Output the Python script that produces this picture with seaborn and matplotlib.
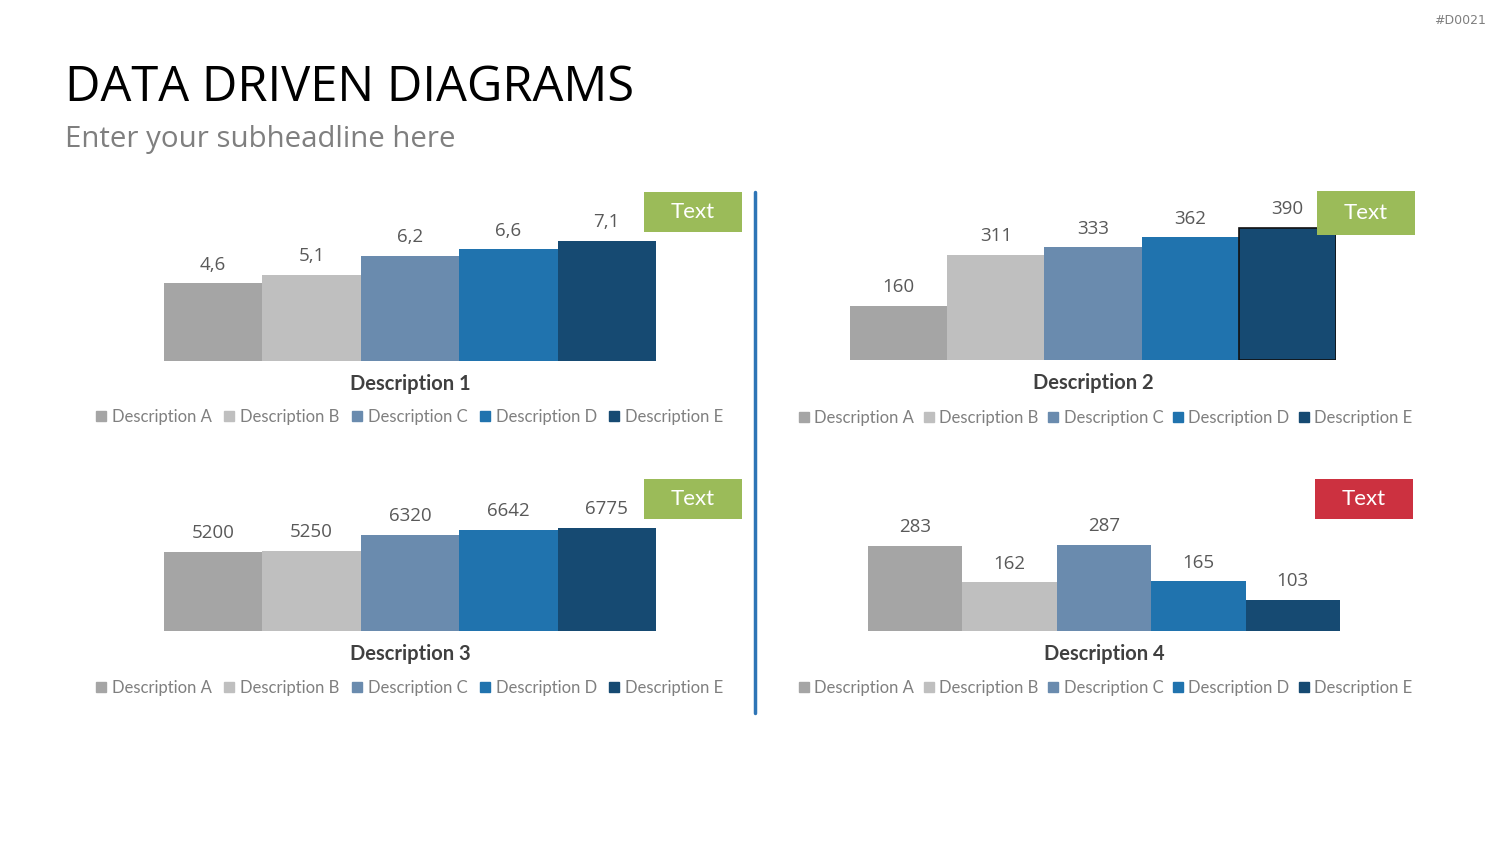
import matplotlib
matplotlib.use("Agg")
import matplotlib.pyplot as plt
import seaborn as sns
import pandas as pd
from matplotlib.patches import Rectangle
from matplotlib.lines import Line2D

# data
categories = ["Description A", "Description B", "Description C", "Description D", "Description E"]
values_1 = [4.6, 5.1, 6.2, 6.6, 7.1]
labels_1 = ["4,6", "5,1", "6,2", "6,6", "7,1"]
values_2 = [160, 311, 333, 362, 390]
values_3 = [5200, 5250, 6320, 6642, 6775]
values_4 = [283, 162, 287, 165, 103]
chart_titles = ["Description 1", "Description 2", "Description 3", "Description 4"]
colors = ["#A5A5A5", "#BFBFBF", "#6A8BAE", "#2073AE", "#164A72"]

sns.set_style("white")
plt.rcParams['font.family'] = ['Open Sans', 'DejaVu Sans']

W, H = 1500, 844
fig = plt.figure(figsize=(15, 8.44), dpi=100)


def px_axes(x0, y0, x1, y1):
    return fig.add_axes([x0 / W, 1 - y1 / H, (x1 - x0) / W, (y1 - y0) / H])


def draw_chart(box, vals, labels, ymax, title, title_y, legend_xy, tag, tag_color,
               outline_last=False, colspace=0.55):
    ax = px_axes(*box)
    df = pd.DataFrame({"cat": categories, "val": vals})
    sns.barplot(data=df, x="cat", y="val", hue="cat", palette=colors, width=1.0,
                saturation=1, legend=False, linewidth=0, ax=ax)
    ax.set_xlim(-0.5, 4.5)
    ax.set_ylim(0, ymax)
    ax.axis("off")
    for i, cont in enumerate(ax.containers):
        ax.bar_label(cont, labels=[labels[i]], padding=7, fontsize=13.5, color="#595959")
        for p in cont:
            p.set_linewidth(0)
        if outline_last and i == len(ax.containers) - 1:
            for p in cont:
                p.set_edgecolor("#111111")
                p.set_linewidth(1.2)
    cx = (box[0] + box[2]) / 2
    fig.text(cx / W, 1 - title_y / H, title, ha="center", va="center", fontsize=14.5,
             fontweight="bold", color="#404040", family=["Lato", "DejaVu Sans"])
    handles = [Line2D([], [], marker="s", linestyle="none", markersize=7, color=c) for c in colors]
    fig.legend(handles, categories, loc="center", ncol=5, frameon=False,
               bbox_to_anchor=(legend_xy[0] / W, 1 - legend_xy[1] / H),
               prop={"family": ["Lato", "DejaVu Sans"], "size": 12},
               labelcolor="#7F7F7F", handletextpad=0.15, columnspacing=colspace,
               handlelength=1.0)
    tx0, ty0, tx1, ty1 = tag
    fig.patches.append(Rectangle((tx0 / W, 1 - ty1 / H), (tx1 - tx0) / W, (ty1 - ty0) / H,
                                 transform=fig.transFigure, facecolor=tag_color,
                                 edgecolor="none", zorder=5))
    fig.text((tx0 + tx1) / 2 / W, 1 - (ty0 + ty1) / 2 / H, "Text", ha="center", va="center",
             fontsize=16, color="white", family=["Lato", "DejaVu Sans"], zorder=6)
    return ax


draw_chart((164, 191, 656, 361), values_1, labels_1, 170 / 16.9, chart_titles[0], 384,
           (408, 417), (644, 192, 742, 232), "#9BBB59")
draw_chart((850, 190, 1336, 360), values_2, [str(v) for v in values_2], 170 / 0.3385,
           chart_titles[1], 383, (1104, 418), (1317, 191, 1415, 235), "#9BBB59",
           outline_last=True, colspace=0.35)
draw_chart((164, 461, 656, 631), values_3, [str(v) for v in values_3], 170 / 0.0152,
           chart_titles[2], 654, (408, 688), (644, 479, 742, 519), "#9BBB59")
draw_chart((868, 461, 1340, 631), values_4, [str(v) for v in values_4], 170 / 0.301,
           chart_titles[3], 654, (1104, 688), (1315, 479, 1413, 519), "#CC3140",
           colspace=0.35)

# divider
fig.add_artist(Line2D([754.5 / W, 754.5 / W], [1 - 192 / H, 1 - 713 / H],
                      transform=fig.transFigure, color="#2E75B6", linewidth=2.5))

fig.text(65 / W, 1 - 88 / H, "DATA DRIVEN DIAGRAMS", ha="left", va="center",
         fontsize=35.2, color="#000000")
fig.text(65 / W, 1 - 139 / H, "Enter your subheadline here", ha="left", va="center",
         fontsize=21.2, color="#7F7F7F")
fig.text(1486 / W, 1 - 20 / H, "#D0021", ha="right", va="center", fontsize=9,
         color="#7F7F7F", family=["DejaVu Sans"])

fig.savefig("out.png", dpi=100, facecolor="white")
